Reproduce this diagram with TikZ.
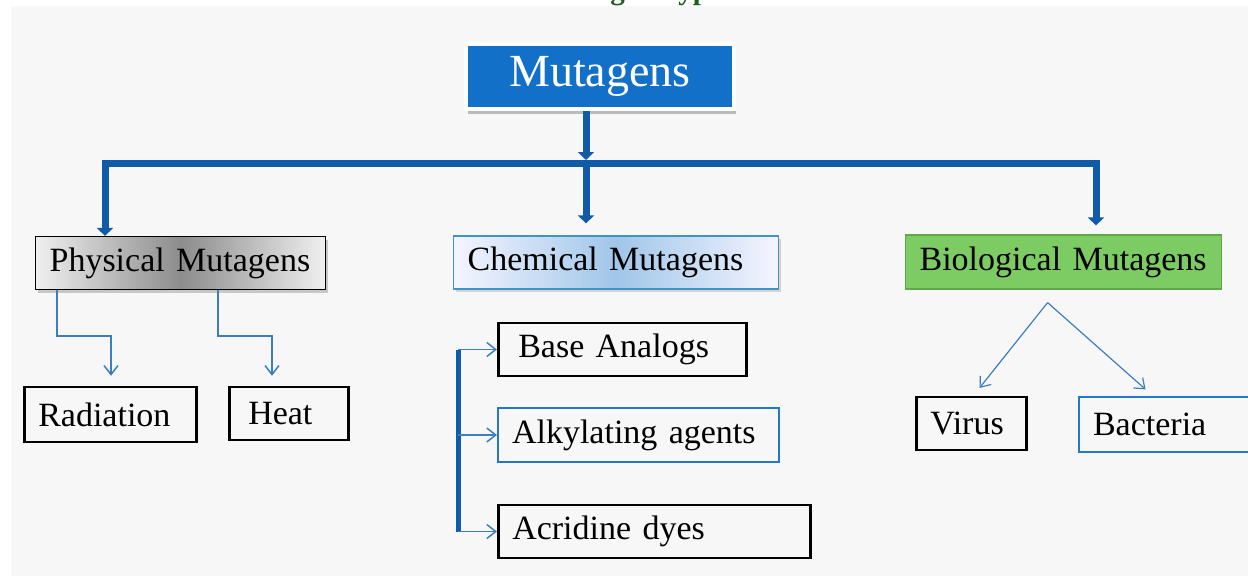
\documentclass[tikz,border=0pt]{standalone}
\usepackage{fontspec}
\setmainfont{Liberation Serif}
\usepackage{xcolor}
\usetikzlibrary{arrows.meta,shadows}
\definecolor{mutblue}{HTML}{1270C8}
\definecolor{trunkblue}{HTML}{0F5BA8}
\definecolor{twigblue}{HTML}{3C7EC0}
\definecolor{boxblue}{HTML}{2577C8}
\definecolor{biogreen}{HTML}{7CCB63}
\definecolor{biodark}{HTML}{5EA848}
\definecolor{chemedge}{HTML}{3F94C4}
\definecolor{titlegreen}{HTML}{1D5C1D}

\begin{document}
\begin{tikzpicture}[x=1pt,y=-1pt,
    leaf/.style={draw,line width=2.5pt,anchor=west,align=left,inner xsep=14pt,inner ysep=0pt,minimum height=53pt,font=\fontsize{34}{40}\selectfont},
    head/.style={leaf,line width=1.2pt},
    trunk/.style={trunkblue,line width=7pt,-{Triangle[width=16pt,length=8pt]}},
    twig/.style={twigblue,line width=1.5pt,-{Straight Barb[width=14pt,length=9pt]}}]
    \useasboundingbox (0,0) rectangle (1248,576);
    \clip (0,0) rectangle (1248,576);
    \fill [white] (0,0) rectangle (1248,576);
    \fill [black!3] (11,6) rectangle (1248,576);
    \node [font=\bfseries\fontsize{29}{30}\selectfont,text=titlegreen,anchor=base] (title) at (638,-1) {Mutagen Types};
    \node [draw=white,line width=4pt,fill=mutblue,text=white,minimum width=268pt,minimum height=65pt,font=\fontsize{46}{50}\selectfont,drop shadow={shadow xshift=2pt,shadow yshift=-5pt,opacity=.5}] (mut) at (600,76) {Mutagens};
    \node [head,text width=262pt,left color=black!6,right color=black!6,middle color=black!45,drop shadow={shadow xshift=2pt,shadow yshift=-3pt,opacity=.4}] (phys) at (35,263) {Physical Mutagens};
    \node [head,draw=chemedge,text width=297pt,left color=blue!4,right color=blue!4,middle color=mutblue!40,drop shadow={shadow xshift=2pt,shadow yshift=-3pt,opacity=.3}] (chem) at (453,262.5) {Chemical Mutagens};
    \node [head,draw=biodark,fill=biogreen,text width=288pt,minimum height=54pt] (bio) at (905,262) {Biological Mutagens};
    \node [leaf,text width=144pt,minimum height=55pt] (rad) at (23,414.5) {Radiation};
    \node [leaf,text width=91pt] (heat) at (228,413.5) {\hspace{5pt}Heat};
    \node [leaf,text width=220pt] (base) at (497,349.5) {\hspace{6pt}Base Analogs};
    \node [leaf,draw=boxblue,line width=2pt,text width=253pt,minimum height=54pt] (alkyl) at (497,435) {Alkylating agents};
    \node [leaf,text width=284pt] (acrid) at (497,531.5) {Acridine dyes};
    \node [leaf,text width=82pt] (virus) at (915,423.5) {Virus};
    \node [leaf,draw=boxblue,line width=2pt,text width=200pt,minimum height=55pt] (bact) at (1078,424.5) {Bacteria};
    \coordinate (hub) at (586,163);
    \coordinate (spine) at (458,0);
    \coordinate (fork) at ([xshift=-16pt,yshift=-13pt]bio.south);
    \draw [trunk,shorten >=3pt] ([xshift=-14pt]mut.south) -- (hub);
    \draw [trunk] (hub) -| ([xshift=70pt]phys.north west);
    \draw [trunk,shorten >=9pt] (hub) -| ([xshift=191pt]bio.north west);
    \draw [trunk,shorten >=12pt] (hub) -- (hub |- chem.north);
    \draw [twig,shorten >=10pt] ([xshift=22pt]phys.south west) -- ++(0,46) -| ([xshift=88pt]rad.north west);
    \draw [twig,shorten >=10pt] ([xshift=183pt]phys.south west) -- ++(0,46) -| ([xshift=44pt]heat.north west);
    \draw [trunkblue,line width=5pt] (base.west -| spine) -- (acrid.west -| spine);
    \foreach \leafname in {base,alkyl,acrid}
      \draw [twig] (\leafname.west -| spine) -- (\leafname.west);
    \draw [twig,line width=1.2pt,shorten >=10pt] (fork) -- ([xshift=2pt]virus.north);
    \draw [twig,line width=1.2pt,shorten >=10pt] (fork) -- ([xshift=75pt]bact.north west);
  \end{tikzpicture}
\end{document}
